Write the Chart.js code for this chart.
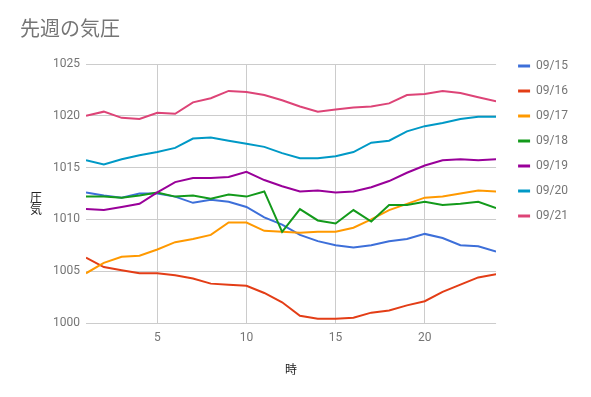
<!DOCTYPE html>
<html>
<head>
<meta charset="utf-8">
<script src="https://cdn.jsdelivr.net/npm/chart.js@4/dist/chart.umd.min.js"></script>
<style>
html,body{margin:0;padding:0;background:#fff;}
#wrap{width:591px;height:397px;}
</style>
</head>
<body>
<div id="wrap"><canvas id="c" width="591" height="397"></canvas></div>
<script>
const title = '先週の気圧';
const xTitle = '時';
const yTitle = '気圧';
const hours = [1,2,3,4,5,6,7,8,9,10,11,12,13,14,15,16,17,18,19,20,21,22,23,24];
const xTicks = [5,10,15,20];
const seriesNames = ['09/15','09/16','09/17','09/18','09/19','09/20','09/21'];
const s0915 = [1012.6,1012.3,1012.1,1012.5,1012.5,1012.2,1011.6,1011.9,1011.7,1011.2,1010.2,1009.5,1008.5,1007.9,1007.5,1007.3,1007.5,1007.9,1008.1,1008.6,1008.2,1007.5,1007.4,1006.9];
const s0916 = [1006.3,1005.4,1005.1,1004.8,1004.8,1004.6,1004.3,1003.8,1003.7,1003.6,1002.9,1002.0,1000.7,1000.4,1000.4,1000.5,1001.0,1001.2,1001.7,1002.1,1003.0,1003.7,1004.4,1004.7];
const s0917 = [1004.8,1005.8,1006.4,1006.5,1007.1,1007.8,1008.1,1008.5,1009.7,1009.7,1008.9,1008.8,1008.7,1008.8,1008.8,1009.2,1010.0,1010.9,1011.5,1012.1,1012.2,1012.5,1012.8,1012.7];
const s0918 = [1012.2,1012.2,1012.1,1012.3,1012.6,1012.2,1012.3,1012.0,1012.4,1012.2,1012.7,1008.8,1011.0,1009.9,1009.6,1010.9,1009.8,1011.4,1011.4,1011.7,1011.4,1011.5,1011.7,1011.1];
const s0919 = [1011.0,1010.9,1011.2,1011.5,1012.6,1013.6,1014.0,1014.0,1014.1,1014.6,1013.8,1013.2,1012.7,1012.8,1012.6,1012.7,1013.1,1013.7,1014.5,1015.2,1015.7,1015.8,1015.7,1015.8];
const s0920 = [1015.7,1015.3,1015.8,1016.2,1016.5,1016.9,1017.8,1017.9,1017.6,1017.3,1017.0,1016.4,1015.9,1015.9,1016.1,1016.5,1017.4,1017.6,1018.5,1019.0,1019.3,1019.7,1019.9,1019.9];
const s0921 = [1020.0,1020.4,1019.8,1019.7,1020.3,1020.2,1021.3,1021.7,1022.4,1022.3,1022.0,1021.5,1020.9,1020.4,1020.6,1020.8,1020.9,1021.2,1022.0,1022.1,1022.4,1022.2,1021.8,1021.4];
const seriesValues = [s0915,s0916,s0917,s0918,s0919,s0920,s0921];
const colors = ['#3d6fd9','#e33d16','#ff9900','#139a1b','#990099','#0099c6','#dd4477'];

const FONT = "Roboto, 'Noto Sans CJK JP', sans-serif";
Chart.defaults.font.family = FONT;

const datasets = seriesNames.map((name, i) => ({
  label: name,
  data: hours.map((h, j) => ({x: h, y: seriesValues[i][j]})),
  borderColor: colors[i],
  backgroundColor: colors[i],
  borderWidth: 2,
  pointRadius: 0,
  pointHoverRadius: 0,
  tension: 0,
  fill: false,
  order: -i
}));

const yTitlePlugin = {
  id: 'yTitleUpright',
  afterDraw(chart) {
    const ctx = chart.ctx;
    ctx.save();
    ctx.font = "12px " + FONT;
    ctx.fillStyle = '#222222';
    ctx.textAlign = 'center';
    ctx.textBaseline = 'middle';
    const chars = Array.from(yTitle).reverse();
    const cy = (chart.chartArea.top + chart.chartArea.bottom) / 2;
    const x = 36;
    chars.forEach((ch, k) => {
      ctx.fillText(ch, x, cy + 5 + k * 12);
    });
    ctx.restore();
  }
};

new Chart(document.getElementById('c'), {
  type: 'line',
  data: { datasets },
  options: {
    responsive: false,
    animation: false,
    devicePixelRatio: 1,
    layout: { padding: { left: 20, right: 13, top: 0, bottom: 0 } },
    plugins: {
      title: {
        display: true,
        text: title,
        align: 'start',
        color: '#757575',
        font: { size: 20, weight: 'normal', family: FONT },
        padding: { top: 19, bottom: 21 }
      },
      legend: {
        display: true,
        position: 'right',
        align: 'start',
        title: { display: true, text: '', font: { size: 10 }, padding: { top: 35, bottom: 0 } },
        labels: {
          boxWidth: 12,
          boxHeight: 3,
          padding: 13,
          color: '#757575',
          font: { size: 12, family: FONT },
          sort: (a, b) => a.datasetIndex - b.datasetIndex,
          generateLabels(chart) {
            const items = Chart.defaults.plugins.legend.labels.generateLabels(chart);
            items.forEach(it => { it.lineWidth = 0; it.fillStyle = it.strokeStyle; });
            return items;
          }
        }
      },
      tooltip: { enabled: false }
    },
    scales: {
      x: {
        type: 'linear',
        min: 1,
        max: 24,
        afterBuildTicks(scale) { scale.ticks = xTicks.map(v => ({value: v})); },
        afterFit(scale) { scale.height = 74; },
        grid: { color: '#cccccc', drawTicks: false, lineWidth: 1 },
        border: { display: false },
        ticks: { color: '#757575', font: { size: 12 }, padding: 8, maxRotation: 0, callback: v => String(v) },
        title: { display: true, text: xTitle, color: '#222222', font: { size: 12 }, padding: { top: 0, bottom: 19 } }
      },
      y: {
        min: 1000,
        max: 1025,
        afterFit(scale) { scale.width = 66; },
        grid: { color: '#cccccc', drawTicks: false, lineWidth: 1 },
        border: { display: false },
        ticks: { stepSize: 5, color: '#757575', font: { size: 12 }, padding: 6, callback: v => String(v) }
      },
      gap: {
        position: 'right',
        display: true,
        afterFit(scale) { scale.width = 9; },
        grid: { display: false },
        border: { display: false },
        ticks: { display: false }
      }
    }
  },
  plugins: [yTitlePlugin]
});
</script>
</body>
</html>
